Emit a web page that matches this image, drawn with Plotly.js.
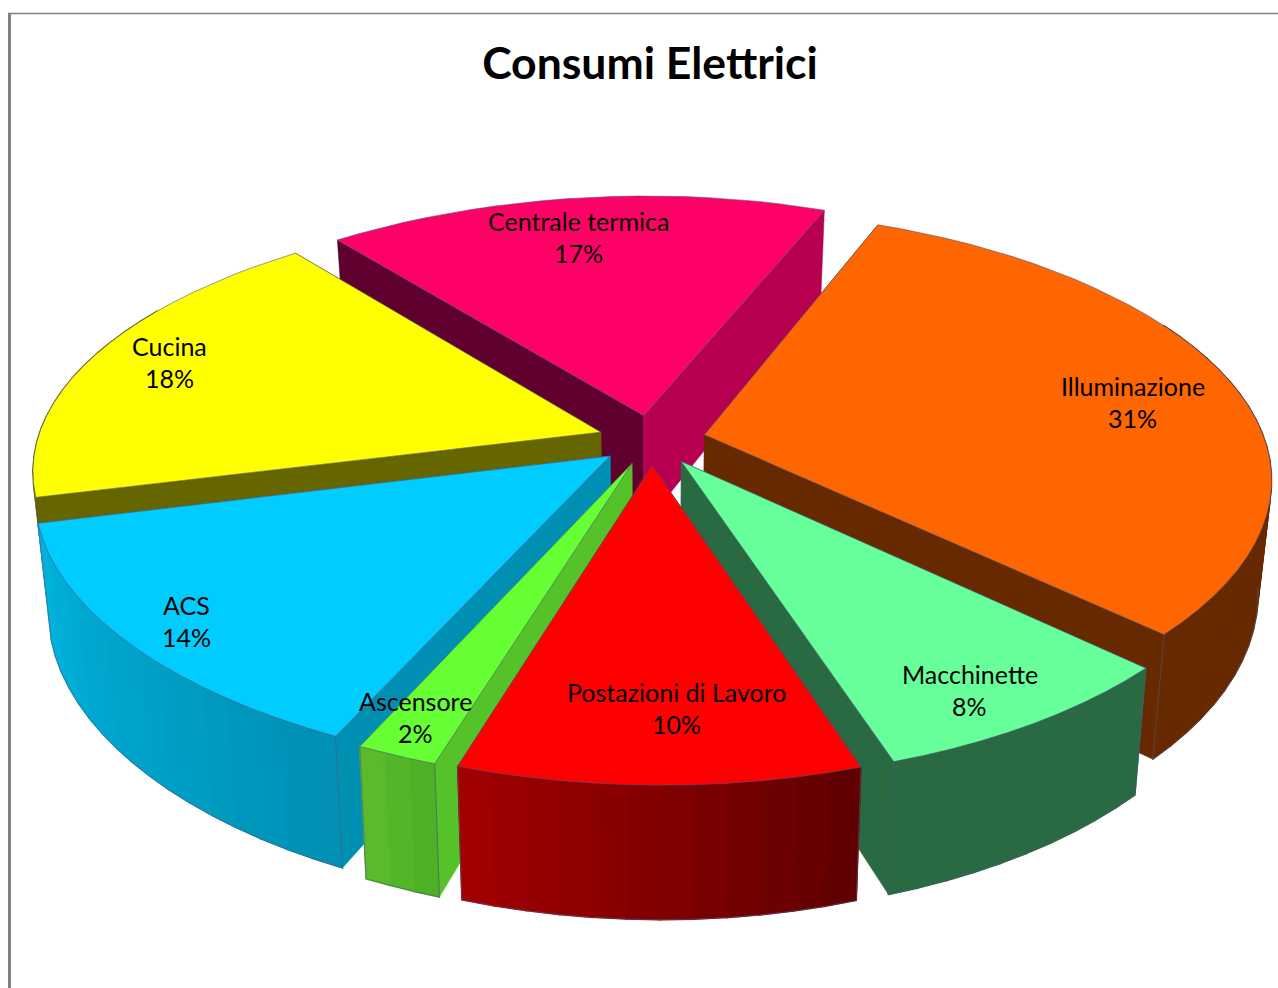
<!DOCTYPE html>
<html>
<head>
<meta charset="utf-8">
<script src="https://cdn.plot.ly/plotly-3.0.1.min.js"></script>
<style>
  html, body { margin: 0; padding: 0; background: #ffffff; overflow: hidden; }
  #chart { width: 1278px; height: 988px; }
</style>
</head>
<body>
<div id="chart"></div>
<script>
// Electricity consumption by end use, share of the total in percent.
const categories = ['Illuminazione', 'Macchinette', 'Postazioni di Lavoro', 'Ascensore', 'ACS', 'Cucina', 'Centrale termica'];
const shares = [31, 8, 10, 2, 14, 18, 17];

// Face colours for each slice.
const topColors = ['#ff6600', '#66ff99', '#ff0000', '#66ff33', '#00ccff', '#ffff00', '#ff0066'];
const firstWallColors = ['#662900', '#2a6a42', '#990000', '#55c22a', '#0090b4', '#666600', '#5f002f'];
const lastWallColors = ['#662900', '#2a6a42', '#990000', '#55c22a', '#0090b4', '#666600', '#b80050'];
const rimStartColors = ['#662900', '#2a6a42', '#5e0000', '#4aae24', '#0090b4', '#666600', '#5f002f'];
const rimEndColors = ['#662900', '#2a6a42', '#a40000', '#5cbc2c', '#00b4de', '#666600', '#5f002f'];

// Where each label sits inside its slice: fraction of the radius, and a small angular nudge.
const labelReach = [0.795, 0.87, 0.79, 0.89, 0.89, 0.855, 0.80];
const labelNudge = [3, 1.8, -2.2, 1, 0, 1, -1.4];

// Perspective view of the pie disc.
const view = {
  cx: 649, cy: 440, nudgeX: 3, spreadX: 562, narrowing: 0.154, lean: 5, bend: 5, roll: 0.008,
  spreadY: 261, depth: 0.156,
  thickness: 112, thicknessDepth: 0.08, taper: 0.022,
  firstAngle: 21, explode: 0.096, arcStep: 3, rimVisible: 0.5, seamVisible: -0.1
};

const rad = d => d * Math.PI / 180;
const direction = d => [Math.sin(rad(d)), Math.cos(rad(d))];

// Disc coordinates to plot coordinates, on the top face or on the underside.
function project(X, Y, below) {
  let x = view.cx + view.nudgeX + view.spreadX * X * (1 - view.narrowing * Y) + view.lean * Y + view.bend * Y * Y;
  let y = view.cy - view.spreadY * Y / (1 + view.depth * Y) + view.roll * (x - view.cx);
  if (below) {
    const t = 1 + view.thicknessDepth * Y;
    y += view.thickness / (t * t);
    x = view.cx + (x - view.cx) * (1 - view.taper);
  }
  return [x, y];
}

function hexToRgb(h) {
  return [1, 3, 5].map(i => parseInt(h.substr(i, 2), 16));
}
function blend(a, b, t) {
  const A = hexToRgb(a), B = hexToRgb(b);
  return 'rgb(' + A.map((v, i) => Math.round(v + (B[i] - v) * t)).join(',') + ')';
}

const total = shares.reduce((s, v) => s + v, 0);
let running = view.firstAngle;
const slices = categories.map((name, i) => {
  const sweep = shares[i] / total * 360;
  const slice = { name, i, start: running, end: running + sweep, mid: running + sweep / 2 };
  running += sweep;
  return slice;
});

function polygon(points, fill, lineColor, lineWidth) {
  return {
    type: 'scatter', mode: 'lines', hoverinfo: 'skip', showlegend: false,
    x: points.map(p => p[0]), y: points.map(p => p[1]),
    fill: 'toself', fillcolor: fill,
    line: { color: lineColor, width: lineWidth }
  };
}

const edge = 'rgba(84,84,130,0.75)';
const traces = [];
const annotations = [];

// Far slices go first so that nearer ones cover them.
slices.slice().sort((a, b) => direction(b.mid)[1] - direction(a.mid)[1]).forEach(slice => {
  const i = slice.i;
  const [ox, oy] = direction(slice.mid).map(v => v * view.explode);
  const rimPoint = (deg, below) => {
    const [dx, dy] = direction(deg);
    return project(ox + dx, oy + dy, below);
  };
  const apexTop = project(ox, oy, false);
  const apexLow = project(ox, oy, true);

  // Arc samples across the slice.
  const count = Math.max(2, Math.ceil((slice.end - slice.start) / view.arcStep));
  const arc = [];
  for (let k = 0; k <= count; k++) arc.push(slice.start + (slice.end - slice.start) * k / count);
  const facing = arc.filter(d => Math.cos(rad(d)) <= view.seamVisible);

  // Radial walls.
  traces.push(polygon([apexTop, rimPoint(slice.start, false), rimPoint(slice.start, true), apexLow, apexTop],
    firstWallColors[i], firstWallColors[i], 0.5));
  traces.push(polygon([apexTop, rimPoint(slice.end, false), rimPoint(slice.end, true), apexLow, apexTop],
    lastWallColors[i], lastWallColors[i], 0.5));

  // Outer rim, shaded from one end of the arc to the other.
  for (let k = 0; k < count; k++) {
    if (Math.cos(rad(arc[k])) > view.rimVisible || Math.cos(rad(arc[k + 1])) > view.rimVisible) continue;
    const shade = blend(rimStartColors[i], rimEndColors[i], (k + 0.5) / count);
    traces.push(polygon([rimPoint(arc[k], false), rimPoint(arc[k + 1], false),
      rimPoint(arc[k + 1], true), rimPoint(arc[k], true), rimPoint(arc[k], false)], shade, shade, 1.5));
  }

  // Thin seams along the lower rim, with a corner line only where the slice really ends.
  if (facing.length > 1) {
    const first = facing[0], last = facing[facing.length - 1];
    const seam = (first === slice.start ? [rimPoint(first, false)] : [])
      .concat(facing.map(d => rimPoint(d, true)))
      .concat(last === arc[arc.length - 1] ? [rimPoint(last, false)] : []);
    traces.push({
      type: 'scatter', mode: 'lines', hoverinfo: 'skip', showlegend: false,
      x: seam.map(p => p[0]), y: seam.map(p => p[1]),
      line: { color: edge, width: 0.8 }
    });
  }

  // Top face.
  const top = [apexTop].concat(arc.map(d => rimPoint(d, false))).concat([apexTop]);
  traces.push(polygon(top, topColors[i], edge, 0.8));

  // Two-line label: name and percentage.
  const [lx, ly] = direction(slice.mid + labelNudge[i]).map(v => v * labelReach[i]);
  const [ax, ay] = project(ox + lx, oy + ly, false);
  [[slice.name, -16], [shares[i] + '%', 16]].forEach(([text, shift]) => {
    annotations.push({
      x: ax, y: ay, xref: 'x', yref: 'y', text, yshift: -shift, showarrow: false,
      xanchor: 'center', yanchor: 'middle',
      font: { family: 'Lato, "Open Sans", sans-serif', size: 25, color: '#000000' }
    });
  });
});

const layout = {
  width: 1278, height: 988,
  margin: { l: 0, r: 0, t: 0, b: 0 },
  paper_bgcolor: '#ffffff', plot_bgcolor: '#ffffff',
  showlegend: false,
  title: {
    text: '<b>Consumi Elettrici</b>',
    x: 650 / 1278, xref: 'paper', xanchor: 'center',
    y: 1 - 63 / 988, yref: 'paper', yanchor: 'middle',
    font: { family: 'Lato, "Open Sans", sans-serif', size: 44.5, color: '#000000' }
  },
  xaxis: { range: [0, 1278], visible: false, fixedrange: true },
  yaxis: { range: [988, 0], visible: false, fixedrange: true },
  annotations,
  // Chart-area border: top hairline and heavier left edge.
  shapes: [
    { type: 'line', xref: 'x', yref: 'y', x0: 8, x1: 1278, y0: 13.5, y1: 13.5, line: { color: '#808080', width: 1.5 } },
    { type: 'line', xref: 'x', yref: 'y', x0: 9.5, x1: 9.5, y0: 13, y1: 988, line: { color: '#808080', width: 3 } }
  ]
};

Plotly.newPlot('chart', traces, layout, { displayModeBar: false, staticPlot: true });
</script>
</body>
</html>
